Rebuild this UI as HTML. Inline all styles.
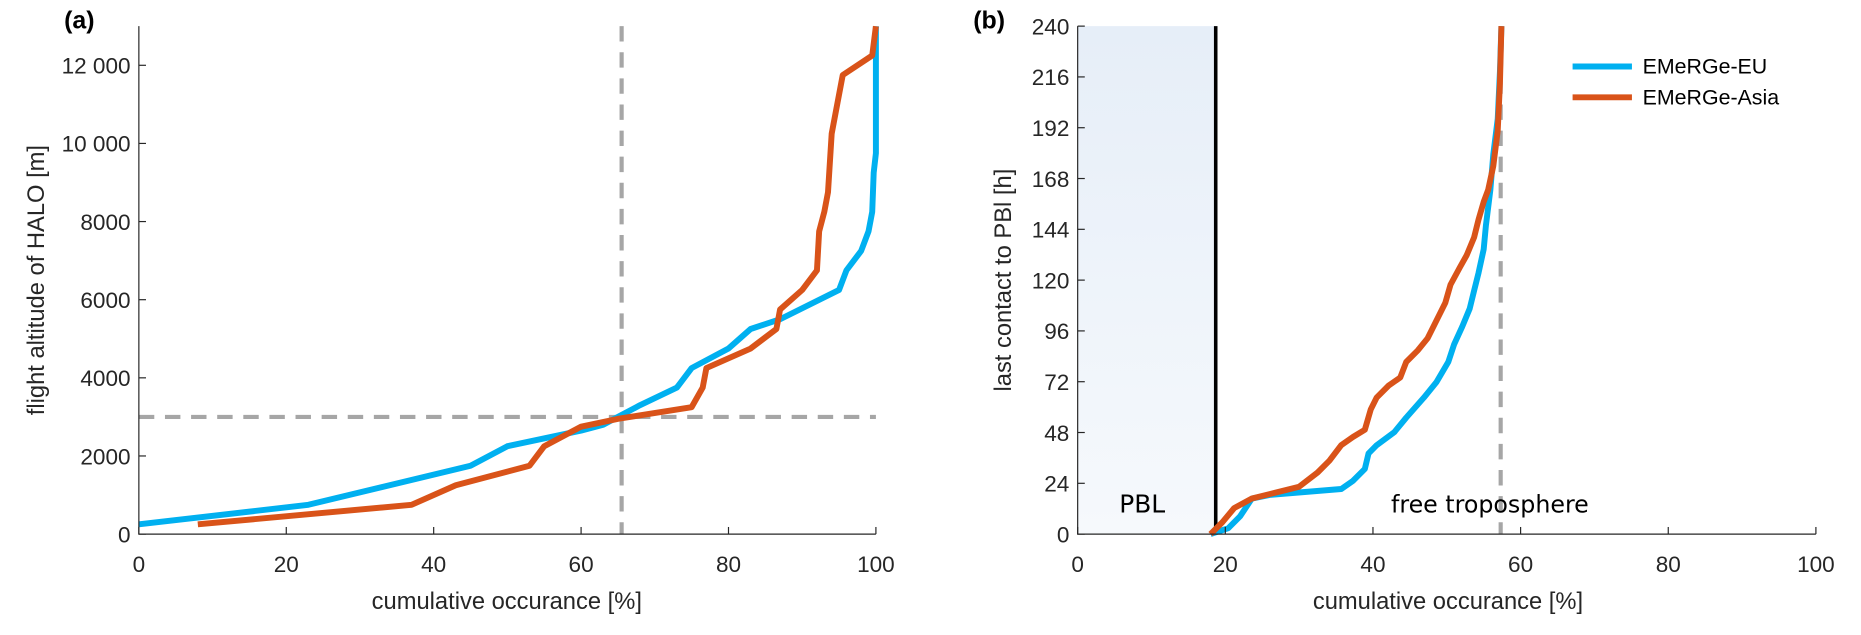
<!DOCTYPE html>
<html><head><meta charset="utf-8"><style>
html,body{margin:0;padding:0;background:#fff;}
svg{display:block;font-family:"Liberation Sans",sans-serif;}
</style></head><body>
<svg id="chart" width="1861" height="635" viewBox="0 0 1568 535" xmlns="http://www.w3.org/2000/svg">
<defs><linearGradient id="pblg" x1="0" y1="0" x2="0" y2="1"><stop offset="0" stop-color="#e6eef8"/><stop offset="1" stop-color="#f6f9fc"/></linearGradient></defs>
<g id="pa"></g>
<g id="pb"></g>
</svg>
<script>
const aTicksY=[0,2000,4000,6000,8000,10000,12000];
const aTickLabelsY=["0","2000","4000","6000","8000","10 000","12 000"];
const xTicks=[0,20,40,60,80,100];
const euAX=[0,23,45,50,60,63,65,68,73,75,80,83,87,95,96,98,99,99.5,99.7,100,100];
const euAY=[250,750,1750,2250,2650,2800,3000,3300,3750,4250,4750,5250,5500,6250,6750,7250,7750,8250,9250,9750,13000];
const asAX=[8,37,43,53,55,60,65,75,76.5,77,83,86.5,87,90,92,92.3,93,93.5,94,95,95.5,99.5,100];
const asAY=[250,750,1250,1750,2250,2750,2950,3250,3750,4250,4750,5250,5750,6250,6750,7750,8250,8750,10250,11250,11750,12250,13000];
const bTicksY=[0,24,48,72,96,120,144,168,192,216,240];
const euBX=[18,20.4,22,23.6,26,35.7,37.3,38.9,39.4,40.5,42.9,44.5,46.9,48.6,50.2,51,52.1,53.1,53.7,54.3,55,55.3,55.9,56.3,56.9,57.2,57.4];
const euBY=[0,2.8,8.4,16.8,18.5,21.3,25.2,30.8,38.1,42,48.2,55,64.5,71.8,81.3,89.7,98.1,106.5,115,123.4,134.6,145.8,162.6,179.4,196.2,218.7,240];
const asBX=[18,19.6,21.2,23.6,26.8,30,32.5,34.1,35.7,37.3,38.9,39.7,40.5,42.1,43.7,44.5,46.1,47.4,48.6,49.8,50.5,51.8,52.7,53.7,54.3,55,55.6,56.3,56.9,57.2,57.4];
const asBY=[0,5.6,12.3,16.8,19.6,22.4,29.1,34.7,42,45.9,49.3,58.9,64.5,70.1,74,81.3,86.9,92.5,100.9,109.3,117.8,126.2,131.8,140.2,148.6,157,162.6,173.9,190.7,213.1,240];
const pblEdge=18.7, dashB=57.3, dashAX=65.5, dashAY=3000;
const NS="http://www.w3.org/2000/svg";
function mk(p,t,a){const e=document.createElementNS(NS,t);for(const k in a)e.setAttribute(k,a[k]);p.appendChild(e);return e;}
function txt(p,x,y,s,a){const e=mk(p,'text',Object.assign({x:x,y:y,fill:'#262626','font-size':19},a||{}));e.textContent=s;return e;}
function poly(p,xs,ys,fx,fy,c){return mk(p,'polyline',{points:xs.map((v,i)=>fx(v)+','+fy(ys[i])).join(' '),fill:'none',stroke:c,'stroke-width':5,'stroke-linejoin':'round'});}
// panel a
const pa=document.getElementById('pa');
const ax=v=>117+v*(738-117)/100, ay=v=>450-v*(450-55)/12000;
let e;
e=mk(pa,'line',{x1:ax(dashAX),y1:22,x2:ax(dashAX),y2:450,stroke:'#a6a6a6','stroke-width':3.5,'stroke-dasharray':'13,9'});

e=mk(pa,'line',{x1:ax(0),y1:ay(dashAY),x2:ax(100),y2:ay(dashAY),stroke:'#a6a6a6','stroke-width':3.5,'stroke-dasharray':'13,9'});

e=poly(pa,euAX,euAY,ax,ay,'#00b0f0');
e=poly(pa,asAX,asAY,ax,ay,'#d95319');
mk(pa,'path',{d:'M117,22V450H738',fill:'none',stroke:'#262626','stroke-width':1});
aTicksY.forEach((v,i)=>{mk(pa,'line',{x1:117,x2:123,y1:ay(v),y2:ay(v),stroke:'#262626'});
 e=txt(pa,110,ay(v)+7,aTickLabelsY[i],{'text-anchor':'end'});});
xTicks.forEach(v=>{mk(pa,'line',{x1:ax(v),x2:ax(v),y1:450,y2:444,stroke:'#262626'});
 e=txt(pa,ax(v),482,String(v),{'text-anchor':'middle'});});
e=txt(pa,427,513,'cumulative occurance [%]',{'text-anchor':'middle','font-size':20});
e=txt(pa,0,0,'flight altitude of HALO [m]',{'text-anchor':'middle','font-size':20,transform:'translate(37,236) rotate(-90)'});
e=txt(pa,54,24,'(a)',{'font-weight':'bold','font-size':21,fill:'#000'});
// panel b
const pb=document.getElementById('pb');
const bx=v=>908+v*(1530-908)/100, by=v=>450-v*(450-22)/240;
e=mk(pb,'rect',{x:bx(0),y:22,width:bx(pblEdge)-bx(0),height:428,fill:'url(#pblg)'});
e=mk(pb,'line',{x1:bx(pblEdge),y1:22,x2:bx(pblEdge),y2:450,stroke:'#000','stroke-width':3});
e=mk(pb,'line',{x1:bx(dashB),y1:22,x2:bx(dashB),y2:450,stroke:'#a6a6a6','stroke-width':3.5,'stroke-dasharray':'13,9'});
e=poly(pb,euBX,euBY,bx,by,'#00b0f0');
e=poly(pb,asBX,asBY,bx,by,'#d95319');
mk(pb,'path',{d:'M908,22V450H1530',fill:'none',stroke:'#262626','stroke-width':1});
bTicksY.forEach(v=>{mk(pb,'line',{x1:908,x2:914,y1:by(v),y2:by(v),stroke:'#262626'});
 e=txt(pb,901,by(v)+7,String(v),{'text-anchor':'end'});});
xTicks.forEach(v=>{mk(pb,'line',{x1:bx(v),x2:bx(v),y1:450,y2:444,stroke:'#262626'});
 e=txt(pb,bx(v),482,String(v),{'text-anchor':'middle'});});
e=txt(pb,1220,513,'cumulative occurance [%]',{'text-anchor':'middle','font-size':20});
e=txt(pb,0,0,'last contact to PBl  [h]',{'text-anchor':'middle','font-size':20,transform:'translate(852,236) rotate(-90)'});
e=txt(pb,820,24,'(b)',{'font-weight':'bold','font-size':21,fill:'#000'});
e=txt(pb,943,432,'PBL',{'font-size':21,fill:'#000','font-family':'"DejaVu Sans",sans-serif'});
e=txt(pb,1172,432,'free troposphere',{'font-size':20,fill:'#000','font-family':'"DejaVu Sans",sans-serif'});
// legend
const lg=mk(pb,'g',{});
e=mk(lg,'line',{x1:1325,x2:1375,y1:56,y2:56,stroke:'#00b0f0','stroke-width':5});
e=txt(lg,1384,62,'EMeRGe-EU',{'font-size':18,fill:'#000'});
e=mk(lg,'line',{x1:1325,x2:1375,y1:82,y2:82,stroke:'#d95319','stroke-width':5});
e=txt(lg,1384,88,'EMeRGe-Asia',{'font-size':18,fill:'#000'});
</script>
</body></html>
